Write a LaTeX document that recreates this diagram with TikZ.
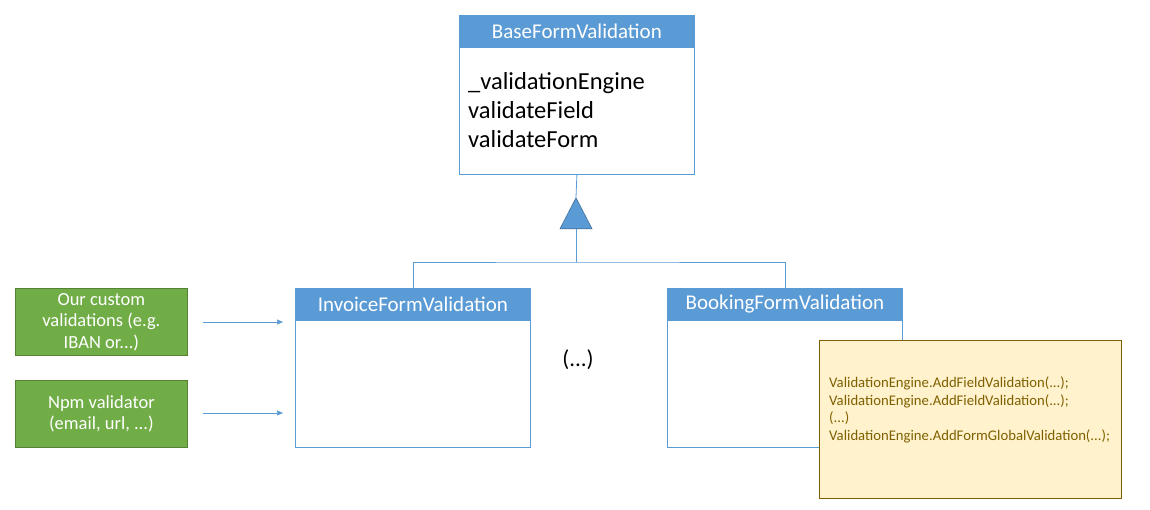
\documentclass[tikz,border=0pt]{standalone}
\usepackage{fontspec}
\setmainfont{Carlito}
\usetikzlibrary{arrows.meta,positioning,shapes.geometric}
\definecolor{hdr}{HTML}{5B9BD5}
\definecolor{hdrline}{HTML}{41719C}
\definecolor{grn}{HTML}{70AD47}
\definecolor{grnline}{HTML}{548235}
\definecolor{notefill}{HTML}{FFF2CC}
\definecolor{noteline}{HTML}{7F6000}
\begin{document}
\begin{tikzpicture}[x=1pt,y=-1pt,
  classbody/.style={draw=hdr,line width=0.8pt,fill=white,minimum width=235pt,minimum height=159pt,inner sep=0pt,anchor=north west},
  classhead/.style={draw=hdr,fill=hdr,line width=0.8pt,text=white,minimum width=235pt,minimum height=32pt,inner sep=0pt,anchor=north west,font=\fontsize{21}{24}\selectfont},
  greenbox/.style={draw=grnline,fill=grn,line width=0.8pt,text=white,minimum width=172pt,minimum height=67pt,inner sep=0pt,anchor=north west,align=center,font=\fontsize{18.5}{21.5}\selectfont},
  conn/.style={draw=hdr,line width=0.8pt},
  inarrow/.style={draw=hdr,line width=0.6pt,-{Triangle[length=6pt,width=5pt]}},
  notebox/.style={draw=noteline,fill=notefill,line width=0.8pt,minimum width=302pt,minimum height=158pt,inner sep=0pt,anchor=north west},
  notetext/.style={text=noteline,anchor=west,align=left,inner sep=0pt,font=\fontsize{14.7}{17.7}\selectfont},
  membertext/.style={anchor=west,align=left,inner sep=0pt,font=\fontsize{24.5}{29}\selectfont}
]
\useasboundingbox (0,0) rectangle (1150,509);
% Base class
\node[classbody] (base) at (459,15) {};
\node[classhead] (basehead) at (459,15) {BaseFormValidation};
\node[membertext] (basemem) at (468,110) {\_validationEngine\\validateField\\validateForm};
% Inheritance triangle
\node[draw=hdrline,fill=hdr,line width=0.6pt,isosceles triangle,isosceles triangle apex angle=55,isosceles triangle stretches,shape border rotate=90,minimum height=31pt,minimum width=32pt,inner sep=0pt] (tri) at (576,219) {};
\draw[conn] (base.south) -- (tri.apex);
\coordinate (junc) at (576,262);
\draw[conn] (tri.south) -- (junc);
% Invoice
\node[classbody] (inv) at (295,288) {};
\node[classhead] (invhead) at (295,288) {InvoiceFormValidation};
% Booking
\node[classbody] (book) at (667,288) {};
\node[classhead] (bookhead) at (667,288) {BookingFormValidation};
\draw[conn] (invhead.north) |- (junc) -| (bookhead.north);
% ellipsis
\node[font=\fontsize{23}{26}\selectfont] (dots) at (578,360) {(...)};
% Green boxes
\node[greenbox] (custom) at (15,288) {Our custom\\validations (e.g.\\IBAN or...)};
\node[greenbox] (npm) at (15,380) {Npm validator\\(email, url, ...)};
\coordinate (a1s) at (203,322);
\coordinate (a1e) at (283,322);
\coordinate (a2s) at (203,413);
\coordinate (a2e) at (283,413);
\draw[inarrow] (a1s) -- (a1e);
\draw[inarrow] (a2s) -- (a2e);
% Note
\node[notebox] (note) at (819,340) {};
\node[notetext] (notetxt) at (829,410) {ValidationEngine.AddFieldValidation(...);\\ValidationEngine.AddFieldValidation(...);\\(...)\\ValidationEngine.AddFormGlobalValidation(...);};
\end{tikzpicture}
\end{document}
